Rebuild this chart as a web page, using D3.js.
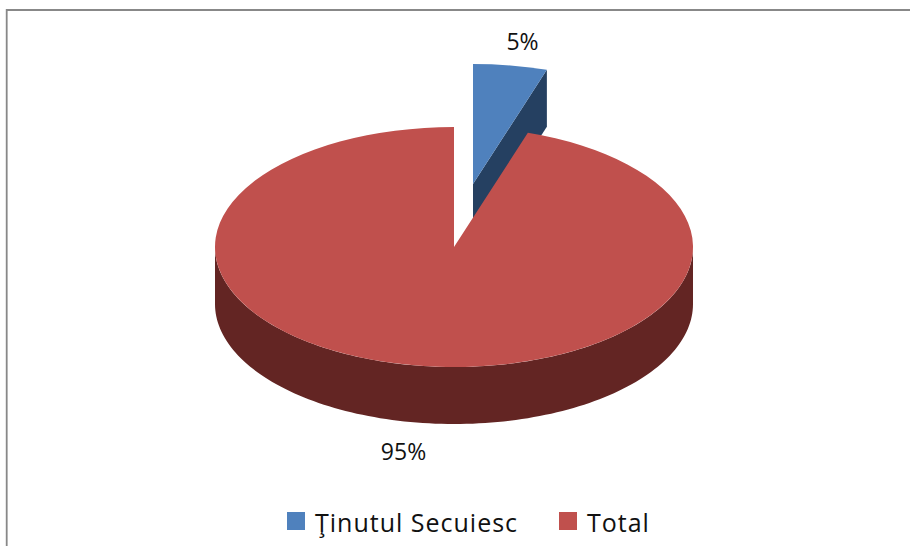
<!DOCTYPE html>
<html><head><meta charset="utf-8">
<script src="https://cdn.jsdelivr.net/npm/d3@7"></script>
<style>html,body{margin:0;padding:0;background:#fff}svg{display:block}
text{font-family:"Open Sans",sans-serif;fill:#111}</style></head>
<body><svg id="c" width="910" height="546"></svg>
<script>
const categories = ["Ţinutul Secuiesc", "Total"];
const values = [5, 95];
const labels = ["5%", "95%"];
const topColors = ["#4F81BD", "#C0504D"];
const wallColors = ["#254061", "#632523"];

const svg = d3.select("#c");
const cx = 454, cy = 247, rx = 239, ry = 120, depth = 57;
const explode = [19, -63];

svg.append("path").attr("d", "M6.7 546V10H910").attr("fill", "none").attr("stroke", "#888").attr("stroke-width", 1.8);

const arcs = d3.pie().sort(null)(values);
const pt = (a, dy = 0) => [Math.sin(a) * rx, -Math.cos(a) * ry + dy];
const arcGen = d3.arc().innerRadius(0).outerRadius(rx);
const line = d3.line();

// exploded slice
const g0 = svg.append("g").attr("transform", `translate(${cx + explode[0]},${cy + explode[1]})`);
const a0 = arcs[0];
g0.append("path").attr("fill", wallColors[0])
  .attr("d", line([[0, 0], pt(a0.endAngle), pt(a0.endAngle, depth), [0, depth]]) + "Z");
g0.append("g").attr("transform", `scale(1,${ry / rx})`).append("path")
  .attr("fill", topColors[0]).attr("d", arcGen(a0));

// main slice
const g1 = svg.append("g").attr("transform", `translate(${cx},${cy})`);
const a1 = arcs[1];
const front = d3.range(0, 121).map(i => Math.PI / 2 + Math.PI * i / 120);
g1.append("path").attr("fill", wallColors[1])
  .attr("d", line([...front.map(a => pt(a)), ...front.slice().reverse().map(a => pt(a, depth))]) + "Z");
g1.append("g").attr("transform", `scale(1,${ry / rx})`).append("path")
  .attr("fill", topColors[1]).attr("d", arcGen(a1));

// data labels
svg.append("text").attr("x", 522.5).attr("y", 50).attr("text-anchor", "middle").attr("font-size", 23).text(labels[0]);
svg.append("text").attr("x", 403.5).attr("y", 460).attr("text-anchor", "middle").attr("font-size", 23).text(labels[1]);

// legend
const legendX = [287, 559], legendTextX = [315, 587];
categories.forEach((c, i) => {
  svg.append("rect").attr("x", legendX[i]).attr("y", 512).attr("width", 18).attr("height", 18).attr("fill", topColors[i]);
  svg.append("text").attr("x", legendTextX[i]).attr("y", 532).attr("font-size", 25).attr("letter-spacing", 1).text(c);
});
</script></body></html>
